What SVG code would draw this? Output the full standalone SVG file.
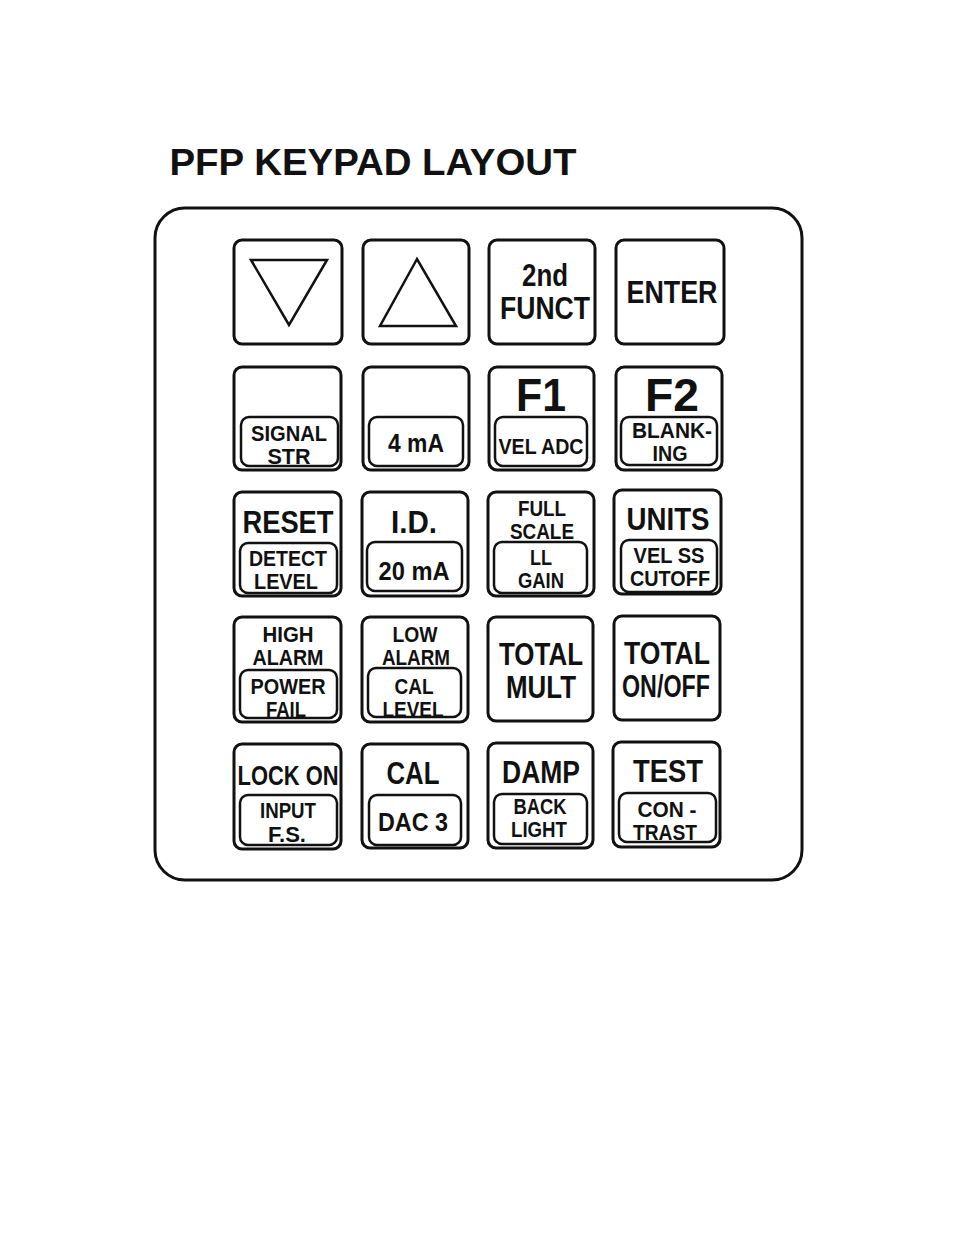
<svg xmlns="http://www.w3.org/2000/svg" width="954" height="1235" viewBox="0 0 954 1235">
<style>
.key{fill:#fff;stroke:#111;stroke-width:3}
.sub{fill:none;stroke:#111;stroke-width:2.5}
.tri{fill:none;stroke:#111;stroke-width:2.5;stroke-linejoin:miter}
text{font-family:"Liberation Sans",Arial,sans-serif;font-weight:bold;fill:#111;text-anchor:middle}
.L{font-size:31px}
.S{font-size:22px}
.M{font-size:25px}
.X{font-size:47px}
</style>
<rect width="954" height="1235" fill="#fff"/>
<text x="373" y="175" style="font-size:37px;text-anchor:middle" textLength="407" lengthAdjust="spacingAndGlyphs">PFP KEYPAD LAYOUT</text>
<g id="panel"><rect x="155" y="208" width="647" height="672" rx="30" fill="none" stroke="#111" stroke-width="3"/></g>
<g id="connectors"></g>

<g id="key-down"><rect class="key" x="234" y="240" width="108" height="104" rx="8"/><polygon class="tri" points="251,260 327,260 289,325"/></g>
<g id="key-up"><rect class="key" x="363" y="240" width="106" height="104" rx="8"/><polygon class="tri" points="417,259 380,326 456,326"/></g>
<g id="key-2nd"><rect class="key" x="489" y="240" width="106" height="104" rx="8"/><text class="L" x="545" y="286" textLength="46" lengthAdjust="spacingAndGlyphs">2nd</text><text class="L" x="545" y="319" textLength="90" lengthAdjust="spacingAndGlyphs">FUNCT</text></g>
<g id="key-enter"><rect class="key" x="616" y="240" width="108" height="104" rx="8"/><text class="L" x="672" y="303" textLength="91" lengthAdjust="spacingAndGlyphs">ENTER</text></g>

<g id="key-signal"><rect class="key" x="234" y="367" width="107" height="103" rx="8"/><rect class="sub" x="241" y="417" width="97" height="49" rx="8"/><text class="S" x="289" y="441" textLength="76" lengthAdjust="spacingAndGlyphs">SIGNAL</text><text class="S" x="289" y="464" textLength="43" lengthAdjust="spacingAndGlyphs">STR</text></g>
<g id="key-4ma"><rect class="key" x="363" y="367" width="106" height="103" rx="8"/><rect class="sub" x="369" y="417" width="94" height="49" rx="8"/><text class="M" x="416" y="452" textLength="56" lengthAdjust="spacingAndGlyphs">4 mA</text></g>
<g id="key-f1"><rect class="key" x="489" y="367" width="105" height="103" rx="8"/><text class="X" x="541" y="411" textLength="50" lengthAdjust="spacingAndGlyphs">F1</text><rect class="sub" x="495" y="417" width="92" height="49" rx="8"/><text class="S" x="541" y="454" textLength="85" lengthAdjust="spacingAndGlyphs">VEL ADC</text></g>
<g id="key-f2"><rect class="key" x="616" y="367" width="106" height="103" rx="8"/><text class="X" x="672" y="411" textLength="54" lengthAdjust="spacingAndGlyphs">F2</text><rect class="sub" x="621" y="417" width="96" height="48" rx="8"/><text class="S" x="672" y="438" textLength="80" lengthAdjust="spacingAndGlyphs">BLANK-</text><text class="S" x="670" y="461" textLength="35" lengthAdjust="spacingAndGlyphs">ING</text></g>

<g id="key-reset"><rect class="key" x="234" y="492" width="107" height="104" rx="8"/><text class="L" x="288" y="533" textLength="91" lengthAdjust="spacingAndGlyphs">RESET</text><rect class="sub" x="240" y="543" width="97" height="50" rx="8"/><text class="S" x="288" y="566" textLength="78" lengthAdjust="spacingAndGlyphs">DETECT</text><text class="S" x="286" y="589" textLength="64" lengthAdjust="spacingAndGlyphs">LEVEL</text></g>
<g id="key-id"><rect class="key" x="362" y="492" width="106" height="104" rx="8"/><text class="L" x="414" y="533" textLength="46" lengthAdjust="spacingAndGlyphs">I.D.</text><rect class="sub" x="367" y="542" width="95" height="49" rx="8"/><text class="M" x="414" y="580" textLength="71" lengthAdjust="spacingAndGlyphs">20 mA</text></g>
<g id="key-fullscale"><rect class="key" x="488" y="492" width="106" height="104" rx="8"/><text class="S" x="542" y="516" textLength="48" lengthAdjust="spacingAndGlyphs">FULL</text><text class="S" x="542" y="539" textLength="64" lengthAdjust="spacingAndGlyphs">SCALE</text><rect class="sub" x="494" y="542" width="93" height="51" rx="8"/><text class="S" x="541" y="565" textLength="22" lengthAdjust="spacingAndGlyphs">LL</text><text class="S" x="541" y="588" textLength="46" lengthAdjust="spacingAndGlyphs">GAIN</text></g>
<g id="key-units"><rect class="key" x="614" y="490" width="107" height="104" rx="8"/><text class="L" x="668" y="530" textLength="83" lengthAdjust="spacingAndGlyphs">UNITS</text><rect class="sub" x="621" y="540" width="96" height="52" rx="8"/><text class="S" x="669" y="563" textLength="71" lengthAdjust="spacingAndGlyphs">VEL SS</text><text class="S" x="670" y="586" textLength="80" lengthAdjust="spacingAndGlyphs">CUTOFF</text></g>

<g id="key-highalarm"><rect class="key" x="234" y="617" width="107" height="105" rx="8"/><text class="S" x="288" y="642" textLength="51" lengthAdjust="spacingAndGlyphs">HIGH</text><text class="S" x="288" y="665" textLength="71" lengthAdjust="spacingAndGlyphs">ALARM</text><rect class="sub" x="240" y="670" width="97" height="48" rx="8"/><text class="S" x="288" y="694" textLength="75" lengthAdjust="spacingAndGlyphs">POWER</text><text class="S" x="286" y="717" textLength="40" lengthAdjust="spacingAndGlyphs">FAIL</text></g>
<g id="key-lowalarm"><rect class="key" x="362" y="617" width="106" height="105" rx="8"/><text class="S" x="415" y="642" textLength="45" lengthAdjust="spacingAndGlyphs">LOW</text><text class="S" x="416" y="665" textLength="68" lengthAdjust="spacingAndGlyphs">ALARM</text><rect class="sub" x="368" y="668" width="93" height="49" rx="8"/><text class="S" x="414" y="694" textLength="39" lengthAdjust="spacingAndGlyphs">CAL</text><text class="S" x="413" y="717" textLength="61" lengthAdjust="spacingAndGlyphs">LEVEL</text></g>
<g id="key-totalmult"><rect class="key" x="488" y="617" width="105" height="104" rx="8"/><text class="L" x="541" y="665" textLength="84" lengthAdjust="spacingAndGlyphs">TOTAL</text><text class="L" x="541" y="698" textLength="70" lengthAdjust="spacingAndGlyphs">MULT</text></g>
<g id="key-totalonoff"><rect class="key" x="614" y="616" width="106" height="104" rx="8"/><text class="L" x="667" y="664" textLength="86" lengthAdjust="spacingAndGlyphs">TOTAL</text><text class="L" x="666" y="697" textLength="88" lengthAdjust="spacingAndGlyphs">ON/OFF</text></g>

<g id="key-lockon"><rect class="key" x="234" y="744" width="107" height="105" rx="8"/><text x="288" y="785" style="font-size:27px" textLength="101" lengthAdjust="spacingAndGlyphs">LOCK ON</text><rect class="sub" x="240" y="795" width="97" height="50" rx="8"/><text class="S" x="288" y="818" textLength="56" lengthAdjust="spacingAndGlyphs">INPUT</text><text class="S" x="287" y="842" textLength="38" lengthAdjust="spacingAndGlyphs">F.S.</text></g>
<g id="key-cal"><rect class="key" x="362" y="744" width="106" height="104" rx="8"/><text class="L" x="413" y="784" textLength="53" lengthAdjust="spacingAndGlyphs">CAL</text><rect class="sub" x="369" y="795" width="92" height="50" rx="8"/><text class="M" x="413" y="831" textLength="70" lengthAdjust="spacingAndGlyphs">DAC 3</text></g>
<g id="key-damp"><rect class="key" x="488" y="743" width="105" height="105" rx="8"/><text class="L" x="541" y="783" textLength="78" lengthAdjust="spacingAndGlyphs">DAMP</text><rect class="sub" x="494" y="794" width="93" height="50" rx="8"/><text class="S" x="540" y="814" textLength="53" lengthAdjust="spacingAndGlyphs">BACK</text><text class="S" x="539" y="837" textLength="56" lengthAdjust="spacingAndGlyphs">LIGHT</text></g>
<g id="key-test"><rect class="key" x="613" y="742" width="107" height="105" rx="8"/><text class="L" x="668" y="782" textLength="70" lengthAdjust="spacingAndGlyphs">TEST</text><rect class="sub" x="619" y="793" width="97" height="49" rx="8"/><text class="S" x="667" y="817" textLength="59" lengthAdjust="spacingAndGlyphs">CON -</text><text class="S" x="665" y="840" textLength="64" lengthAdjust="spacingAndGlyphs">TRAST</text></g>
</svg>
